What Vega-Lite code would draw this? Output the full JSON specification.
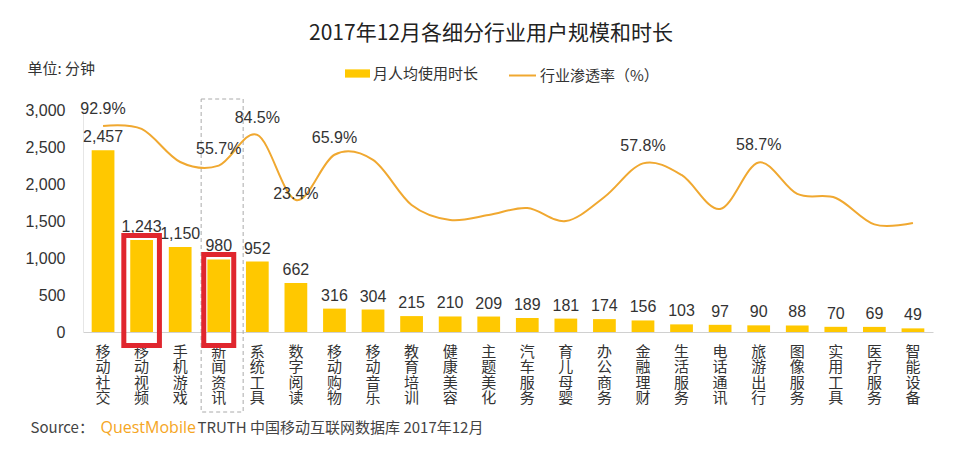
{
  "$schema": "https://vega.github.io/schema/vega-lite/v6.json",
  "width": 850,
  "height": 222,
  "autosize": "none",
  "padding": {"left": 83, "top": 110, "right": 27, "bottom": 118},
  "background": "white",
  "title": {"text": "2017年12月各细分行业用户规模和时长", "font": "Noto Sans CJK SC", "fontSize": 21, "fontWeight": "normal", "color": "#222222", "anchor": "middle", "dx": -17, "dy": -13},
  "config": {
    "view": {"stroke": null},
    "axisY": {"titleAngle": 0, "titleX": -56, "titleY": -42, "titleAlign": "left", "titleBaseline": "middle",
      "titleFont": "Noto Sans CJK SC", "titleFontSize": 15, "titleFontWeight": "normal", "titleColor": "#333333",
      "labelFont": "Liberation Sans", "labelFontSize": 16, "labelColor": "#333333", "labelPadding": 18, "ticks": false, "grid": false, "domainColor": "#e6e6e6"}
  },
  "data": {"values": [
    {"c": "移动社交", "m": 2457, "r": 0.929},
    {"c": "移动视频", "m": 1243, "r": 0.901},
    {"c": "手机游戏", "m": 1150, "r": 0.591},
    {"c": "新闻资讯", "m": 980, "r": 0.557},
    {"c": "系统工具", "m": 952, "r": 0.845},
    {"c": "数字阅读", "m": 662, "r": 0.234},
    {"c": "移动购物", "m": 316, "r": 0.659},
    {"c": "移动音乐", "m": 304, "r": 0.610},
    {"c": "教育培训", "m": 215, "r": 0.187},
    {"c": "健康美容", "m": 210, "r": 0.046},
    {"c": "主题美化", "m": 209, "r": 0.093},
    {"c": "汽车服务", "m": 189, "r": 0.159},
    {"c": "育儿母婴", "m": 181, "r": 0.037},
    {"c": "办公商务", "m": 174, "r": 0.262},
    {"c": "金融理财", "m": 156, "r": 0.578},
    {"c": "生活服务", "m": 103, "r": 0.469},
    {"c": "电话通讯", "m": 97, "r": 0.150},
    {"c": "旅游出行", "m": 90, "r": 0.587},
    {"c": "图像服务", "m": 88, "r": 0.291},
    {"c": "实用工具", "m": 70, "r": 0.253},
    {"c": "医疗服务", "m": 69, "r": 0.005},
    {"c": "智能设备", "m": 49, "r": 0.018}
  ]},
  "layer": [
    {
      "encoding": {
        "x": {"field": "c", "type": "nominal", "sort": null,
          "scale": {"paddingInner": 0.41, "paddingOuter": 0.225},
          "axis": {"title": "Source：", "titleX": -53, "titleY": 95, "titleAlign": "left", "titleBaseline": "middle", "titleAngle": 0,
            "titleFont": "Noto Sans CJK SC", "titleFontSize": 15, "titleFontWeight": "normal", "titleColor": "#444444",
            "labelExpr": "split(datum.label, '')", "labelAngle": 0, "labelBaseline": "top", "labelPadding": 12, "labelLineHeight": 15.5,
            "labelFont": "Noto Sans CJK SC", "labelFontSize": 15, "labelColor": "#333333", "labelOverlap": false, "labelLimit": 0,
            "ticks": false, "domainColor": "#d0d0d0", "grid": false}}
      },
      "layer": [
        {
          "mark": {"type": "bar"},
          "encoding": {
            "y": {"field": "m", "type": "quantitative", "scale": {"domain": [0, 3000], "nice": false},
              "axis": {"title": "单位: 分钟", "values": [0, 500, 1000, 1500, 2000, 2500, 3000], "format": ",.0f"}},
            "fill": {"datum": "月人均使用时长", "type": "nominal", "scale": {"range": ["#FFC800"]},
              "legend": {"orient": "none", "legendX": 262, "legendY": -49, "title": null, "symbolType": "M-1,-0.33H1V0.33H-1Z", "symbolSize": 625,
                "symbolStrokeWidth": 0, "labelFont": "Noto Sans CJK SC", "labelFontSize": 15, "labelColor": "#333333", "labelOffset": 3}}
          }
        },
        {
          "transform": [{"filter": "datum.c === '新闻资讯'"}],
          "mark": {"type": "bar", "width": 42, "xOffset": 3.4, "fill": "transparent", "stroke": "#aaaaaa", "strokeWidth": 1, "strokeDash": [4, 3], "yOffset": -11, "y2Offset": 80},
          "encoding": {
            "y": {"datum": 3000, "type": "quantitative", "axis": {"title": "单位: 分钟", "values": [0, 500, 1000, 1500, 2000, 2500, 3000], "format": ",.0f"}},
            "y2": {"datum": 0}}
        },
        {
          "mark": {"type": "text", "dy": -13, "baseline": "middle", "fontSize": 16, "color": "#333333", "font": "Liberation Sans"},
          "encoding": {
            "y": {"field": "m", "type": "quantitative", "axis": {"title": "单位: 分钟", "values": [0, 500, 1000, 1500, 2000, 2500, 3000], "format": ",.0f"}},
            "text": {"field": "m", "type": "quantitative", "format": ","}}
        },
        {
          "transform": [{"filter": "datum.c === '移动视频'"}],
          "mark": {"type": "bar", "width": 35.6, "fill": "transparent", "stroke": "#E0262E", "strokeWidth": 5, "yOffset": -4.5, "y2Offset": 13.5},
          "encoding": {
            "y": {"field": "m", "type": "quantitative", "axis": {"title": "单位: 分钟", "values": [0, 500, 1000, 1500, 2000, 2500, 3000], "format": ",.0f"}},
            "y2": {"datum": 0}}
        },
        {
          "transform": [{"filter": "datum.c === '新闻资讯'"}],
          "mark": {"type": "bar", "width": 30, "fill": "transparent", "stroke": "#E0262E", "strokeWidth": 5, "yOffset": -5, "y2Offset": 13.5},
          "encoding": {
            "y": {"field": "m", "type": "quantitative", "axis": {"title": "单位: 分钟", "values": [0, 500, 1000, 1500, 2000, 2500, 3000], "format": ",.0f"}},
            "y2": {"datum": 0}}
        }
      ]
    },
    {
      "encoding": {
        "x": {"field": "c", "type": "nominal", "sort": null,
          "axis": {"orient": "top", "domain": false, "ticks": false, "labels": false, "grid": false,
            "title": "QuestMobile", "titleX": 17, "titleY": 317, "titleAlign": "left", "titleBaseline": "middle", "titleAngle": 0,
            "titleFont": "Open Sans", "titleFontSize": 16, "titleFontWeight": "normal", "titleColor": "#F5A623"}}
      },
      "layer": [
        {
          "mark": {"type": "line", "interpolate": "cardinal", "strokeWidth": 2},
          "encoding": {
            "y": {"field": "r", "type": "quantitative", "scale": {"domain": [-1.005, 1.079], "nice": false, "zero": false},
              "axis": {"orient": "right", "domain": false, "ticks": false, "labels": false, "grid": false,
                "title": "TRUTH 中国移动互联网数据库 2017年12月", "titleX": -736, "titleY": 317, "titleAlign": "left", "titleBaseline": "middle", "titleAngle": 0,
                "titleFont": "Noto Sans CJK SC", "titleFontSize": 15, "titleFontWeight": "normal", "titleColor": "#444444"}},
            "stroke": {"datum": "行业渗透率（%）", "type": "nominal", "scale": {"range": ["#F0A830"]},
              "legend": {"orient": "none", "legendX": 425, "legendY": -49, "title": null, "symbolType": "stroke", "symbolSize": 729, "symbolStrokeWidth": 2,
                "labelFont": "Noto Sans CJK SC", "labelFontSize": 15, "labelColor": "#333333", "labelOffset": 3}}
          }
        },
        {
          "transform": [{"filter": {"field": "c", "oneOf": ["移动社交", "新闻资讯", "系统工具", "移动购物", "金融理财", "旅游出行"]}}],
          "mark": {"type": "text", "dy": -17, "baseline": "middle", "fontSize": 16, "color": "#333333", "font": "Liberation Sans"},
          "encoding": {
            "y": {"field": "r", "type": "quantitative", "axis": {"orient": "right", "domain": false, "ticks": false, "labels": false, "grid": false,
                "title": "TRUTH 中国移动互联网数据库 2017年12月", "titleX": -736, "titleY": 317, "titleAlign": "left", "titleBaseline": "middle", "titleAngle": 0,
                "titleFont": "Noto Sans CJK SC", "titleFontSize": 15, "titleFontWeight": "normal", "titleColor": "#444444"}},
            "text": {"field": "r", "type": "quantitative", "format": ".1%"}}
        },
        {
          "transform": [{"filter": "datum.c === '数字阅读'"}],
          "mark": {"type": "text", "dy": -6, "baseline": "middle", "fontSize": 16, "color": "#333333", "font": "Liberation Sans"},
          "encoding": {
            "y": {"field": "r", "type": "quantitative", "axis": {"orient": "right", "domain": false, "ticks": false, "labels": false, "grid": false,
                "title": "TRUTH 中国移动互联网数据库 2017年12月", "titleX": -736, "titleY": 317, "titleAlign": "left", "titleBaseline": "middle", "titleAngle": 0,
                "titleFont": "Noto Sans CJK SC", "titleFontSize": 15, "titleFontWeight": "normal", "titleColor": "#444444"}},
            "text": {"field": "r", "type": "quantitative", "format": ".1%"}}
        }
      ]
    }
  ],
  "resolve": {"scale": {"y": "independent"}, "axis": {"x": "independent"}}
}
